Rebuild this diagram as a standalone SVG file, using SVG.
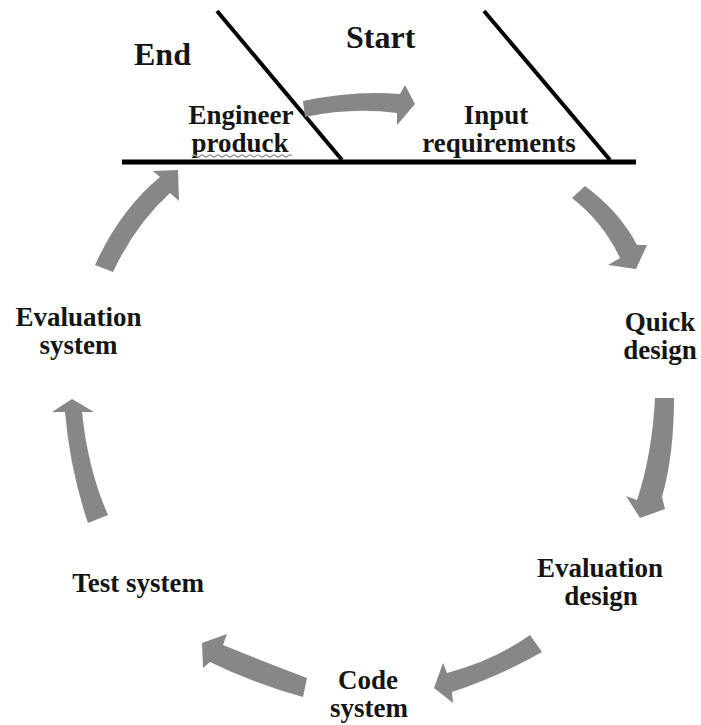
<svg xmlns="http://www.w3.org/2000/svg" width="701" height="725" viewBox="0 0 701 725">
<style>
.lbl{font-family:"Liberation Serif","Times New Roman",serif;font-weight:bold;font-size:27px;fill:#151515;text-anchor:middle}
.big{font-family:"Liberation Serif","Times New Roman",serif;font-weight:bold;font-size:32px;fill:#151515}
.ln{stroke:#000;stroke-width:4;stroke-linecap:butt;fill:none}
.arr{fill:#878787}
</style>
<rect width="701" height="725" fill="#fff"/>
<g id="frame">
<line class="ln" x1="122" y1="162" x2="636" y2="162" style="stroke-width:5"/>
<line class="ln" x1="217" y1="11" x2="342" y2="160"/>
<line class="ln" x1="484" y1="11" x2="610" y2="160"/>
</g>
<g id="end-label"><text class="big" x="134" y="65">End</text></g>
<g id="start-label"><text class="big" x="346" y="48">Start</text></g>
<g id="engineer-produck">
<text class="lbl" x="241" y="124">Engineer</text>
<text class="lbl" x="240" y="152">produck</text>
<path d="M192,156 q2,-2 4,0 t4,0 t4,0 t4,0 t4,0 t4,0 t4,0 t4,0 t4,0 t4,0 t4,0 t4,0 t4,0 t4,0 t4,0 t4,0 t4,0 t4,0 t4,0 t4,0 t4,0 t4,0 t4,0 t4,0 t4,0" fill="none" stroke="#a0a0a0" stroke-width="1.2"/>
</g>
<g id="input-requirements">
<text class="lbl" x="496" y="124">Input</text>
<text class="lbl" x="499" y="152">requirements</text>
</g>
<g id="quick-design">
<text class="lbl" x="660" y="331">Quick</text>
<text class="lbl" x="660" y="359">design</text>
</g>
<g id="evaluation-design">
<text class="lbl" x="600" y="577">Evaluation</text>
<text class="lbl" x="601" y="605">design</text>
</g>
<g id="code-system">
<text class="lbl" x="368" y="689">Code</text>
<text class="lbl" x="369" y="717">system</text>
</g>
<g id="test-system">
<text class="lbl" x="138" y="592">Test system</text>
</g>
<g id="evaluation-system">
<text class="lbl" x="78.5" y="326">Evaluation</text>
<text class="lbl" x="78.5" y="354">system</text>
</g>
<g id="connectors">
<path class="arr" d="M303,101 Q355,90 400,94 L405,85 L415,104 L397,125 L397,113 Q352,107 305,117 Z"/>
<path class="arr" d="M572,198 L585,186 Q620,212 637,245 L647,245 L636,269 L608,265 L620,258 Q603,222 572,198 Z"/>
<path class="arr" d="M655,398 L674,398 Q674,455 662,497 L665,509 L640,518 L626,496 L637,500 Q652,455 655,398 Z"/>
<path class="arr" d="M530,635 L542,652 Q500,676 452,692 L453,703 L434,688 L443,663 L447,673 Q495,660 530,635 Z"/>
<path class="arr" d="M307,678 Q265,662 223,645 L227,634 L202,643 L203,668 L210,662 Q255,684 303,697 Z"/>
<path class="arr" d="M88,523 Q70,470 65,412 L52,412 L72,399 L94,412 L82,412 Q88,470 108,515 Z"/>
<path class="arr" d="M95,265 Q120,210 160,177 L153,171 L178,170 L179,201 L170,193 Q135,225 113,272 Z"/>
</g>
</svg>
